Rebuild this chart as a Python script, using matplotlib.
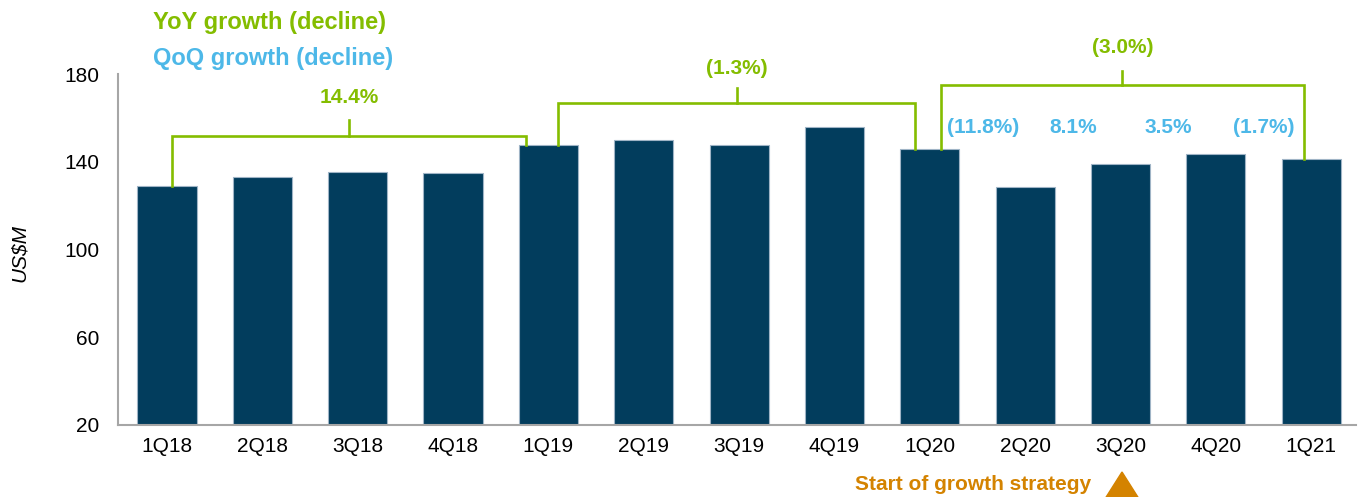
import matplotlib
matplotlib.use("Agg")
import matplotlib.pyplot as plt
from matplotlib.patches import Polygon

plt.rcParams['font.family'] = ['Liberation Sans', 'DejaVu Sans']

# ---- data ----
quarters = ["1Q18", "2Q18", "3Q18", "4Q18", "1Q19", "2Q19", "3Q19", "4Q19",
            "1Q20", "2Q20", "3Q20", "4Q20", "1Q21"]
revenue = [128.9, 133.2, 135.3, 135.0, 147.6, 149.9, 147.8, 155.8,
           145.7, 128.3, 138.8, 143.7, 141.1]
yticks = [20, 60, 100, 140, 180]

yoy_labels = ["14.4%", "(1.3%)", "(3.0%)"]
yoy_pairs = [(0, 4), (4, 8), (8, 12)]
qoq_labels = ["(11.8%)", "8.1%", "3.5%", "(1.7%)"]
qoq_index = [9, 10, 11, 12]

# ---- styles ----
BAR = "#023D5D"
GREEN = "#84BD00"
BLUE = "#4DB8E8"
ORANGE = "#D48300"
GRAY = "#A6A6A6"

fig = plt.figure(figsize=(13.58, 4.97), dpi=100)
ax = fig.add_axes([118/1358, 1-425/497, (1356-118)/1358, (425-74)/497])

x = list(range(len(quarters)))
ax.bar(x, revenue, width=0.62, color=BAR, edgecolor="#9FB4C6", linewidth=0.8,
       bottom=0, zorder=2)
ax.set_ylim(20, 180)
ax.set_xlim(-0.514, 12.47)
ax.set_yticks(yticks)
ax.set_xticks(x)
ax.set_xticklabels(quarters)
ax.tick_params(axis='both', length=0, labelsize=15, colors='black')
ax.tick_params(axis='y', pad=13.5)
ax.tick_params(axis='x', pad=9)
for s in ['top', 'right']:
    ax.spines[s].set_visible(False)
for s in ['left', 'bottom']:
    ax.spines[s].set_color(GRAY)
    ax.spines[s].set_linewidth(1.5)

ax.set_ylabel("US$M", fontsize=15, style='italic')
ax.yaxis.set_label_coords(-(118-29)/1238, 0.49)

# ---- YoY brackets ----
leg_off = [(0.05, -0.23), (0.10, -0.15), (0.12, -0.08)]
bar_h = [151.7, 166.8, 175.0]
tick_h = [159.0, 173.6, 181.4]
lab_h = [169.1, 182.3, 191.9]
for (a, b), (oa, ob), hy, ty, ly, lab in zip(yoy_pairs, leg_off, bar_h, tick_h, lab_h, yoy_labels):
    xa, xb = a + oa, b + ob
    ax.plot([xa, xa, xb, xb], [revenue[a], hy, hy, revenue[b]], color=GREEN,
            lw=1.9, clip_on=False, zorder=3, solid_joinstyle='miter')
    xm = (xa + xb) / 2
    ax.plot([xm, xm], [hy, ty], color=GREEN, lw=1.9, clip_on=False, zorder=3)
    ax.text(xm, ly, lab, color=GREEN, fontsize=15, fontweight='bold',
            ha='center', va='center', clip_on=False)

# ---- QoQ labels ----
qoq_off = [0.06, 0, 0, 0]
for i, lab, o in zip(qoq_index, qoq_labels, qoq_off):
    ax.text(i - 0.5 + o, 155.8, lab, color=BLUE, fontsize=15, fontweight='bold',
            ha='center', va='center')

# ---- legend texts ----
fig.text(153/1358, 1-22.5/497, "YoY growth (decline)", color=GREEN, fontsize=17,
         fontweight='bold', ha='left', va='center')
fig.text(153/1358, 1-59/497, "QoQ growth (decline)", color=BLUE, fontsize=17,
         fontweight='bold', ha='left', va='center')

# ---- growth strategy marker ----
fig.text(1091/1358, 1-485/497, "Start of growth strategy", color=ORANGE, fontsize=15,
         fontweight='bold', ha='right', va='center')
tri = Polygon([[1103/1358, 1-502/497], [1141/1358, 1-502/497], [1122/1358, 1-472/497]],
              closed=True, transform=fig.transFigure, color=ORANGE, clip_on=False)
fig.patches.append(tri)

fig.savefig("out.png", dpi=100)
